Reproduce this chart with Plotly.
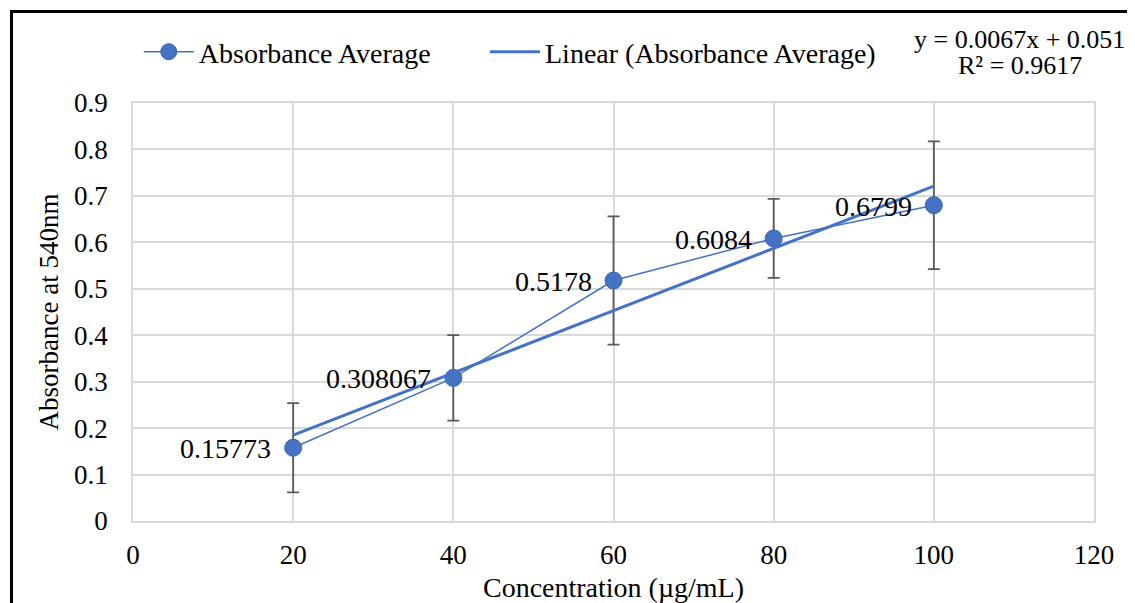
import plotly.graph_objects as go

concentration = [20, 40, 60, 80, 100]
absorbance = [0.15773, 0.308067, 0.5178, 0.6084, 0.6799]
error = [0.096, 0.092, 0.138, 0.085, 0.1375]
labels = ["0.15773", "0.308067", "0.5178", "0.6084", "0.6799"]
slope = 0.0067
intercept = 0.051
r2 = 0.9617
x_ticks = [0, 20, 40, 60, 80, 100, 120]
y_ticks = [0, 0.1, 0.2, 0.3, 0.4, 0.5, 0.6, 0.7, 0.8, 0.9]

FONT = "Liberation Serif"
BLUE = "#4472C4"

# figure geometry (page body has an 8px margin)
W, H = 1127, 595
L, T, R, B = 125, 95, 41, 82
PW, PH = W - L - R, H - T - B


def px(fx):
    return (fx - L) / PW


def py(fy):
    return (H - B - fy) / PH


trend_x = [concentration[0], concentration[-1]]
trend_y = [slope * x + intercept for x in trend_x]

fig = go.Figure()
fig.add_trace(go.Scatter(
    x=concentration, y=absorbance, mode="lines+markers",
    name="Absorbance Average", legend="legend", showlegend=True,
    line=dict(color=BLUE, width=1.5),
    marker=dict(color=BLUE, size=17, line=dict(color="#3a64b0", width=1)),
    error_y=dict(type="data", array=error, visible=True, color="#595959", thickness=1.8, width=6),
))
fig.add_trace(go.Scatter(
    x=trend_x, y=trend_y, mode="lines",
    name="Linear (Absorbance Average)", legend="legend2", showlegend=True,
    line=dict(color=BLUE, width=3),
))

annotations = [
    dict(x=xv, y=yv, xref="x", yref="y", text=t, showarrow=False, xanchor="right",
         yanchor="middle", xshift=-20, yshift=-1, font=dict(family=FONT, size=28, color="black"))
    for xv, yv, t in zip(concentration, absorbance, labels)
]
annotations += [
    dict(text=f"y = {slope}x + {intercept}", xref="paper", yref="paper",
         x=px(1011), y=py(32), xanchor="center", yanchor="middle",
         showarrow=False, font=dict(family=FONT, size=26, color="black")),
    dict(text=f"R² = {r2}", xref="paper", yref="paper",
         x=px(1012), y=py(57), xanchor="center", yanchor="middle",
         showarrow=False, font=dict(family=FONT, size=26, color="black")),
]

legend_common = dict(orientation="h", yanchor="middle", xanchor="left", y=py(44),
                     font=dict(family=FONT, size=28), itemwidth=50,
                     bgcolor="rgba(0,0,0,0)")

fig.update_layout(
    width=W, height=H,
    showlegend=True,
    margin=dict(l=L, r=R, t=T, b=B),
    paper_bgcolor="white", plot_bgcolor="white",
    font=dict(family=FONT, size=28, color="black"),
    legend=dict(x=0.006, **legend_common),
    legend2=dict(x=0.3663, **legend_common),
    xaxis=dict(range=[0, 120], tickvals=x_ticks, showgrid=True, gridcolor="#d9d9d9",
               gridwidth=1.5, zeroline=False, showline=True, linecolor="#d9d9d9", linewidth=1.5,
               mirror=True, ticks="", ticklabelstandoff=9, automargin=False,
               title=dict(text="Concentration (µg/mL)", font=dict(family=FONT, size=28), standoff=8),
               tickfont=dict(family=FONT, size=27)),
    yaxis=dict(range=[0, 0.9], tickvals=y_ticks, ticktext=[("%g" % v) for v in y_ticks],
               showgrid=True, gridcolor="#d9d9d9", gridwidth=1.5, zeroline=False,
               showline=True, linecolor="#d9d9d9", linewidth=1.5, mirror=True,
               ticks="", ticklabelstandoff=18, automargin=False,
               title=dict(text="Absorbance at 540nm", font=dict(family=FONT, size=27), standoff=8),
               tickfont=dict(family=FONT, size=27)),
    annotations=annotations,
    shapes=[
        dict(type="line", xref="paper", yref="paper", x0=px(3.5), x1=px(3.5),
             y0=py(2.5), y1=py(610), line=dict(color="black", width=3)),
        dict(type="line", xref="paper", yref="paper", x0=px(2), x1=px(1140),
             y0=py(3.5), y1=py(3.5), line=dict(color="black", width=3)),
    ],
)

fig.write_html("out.html")
